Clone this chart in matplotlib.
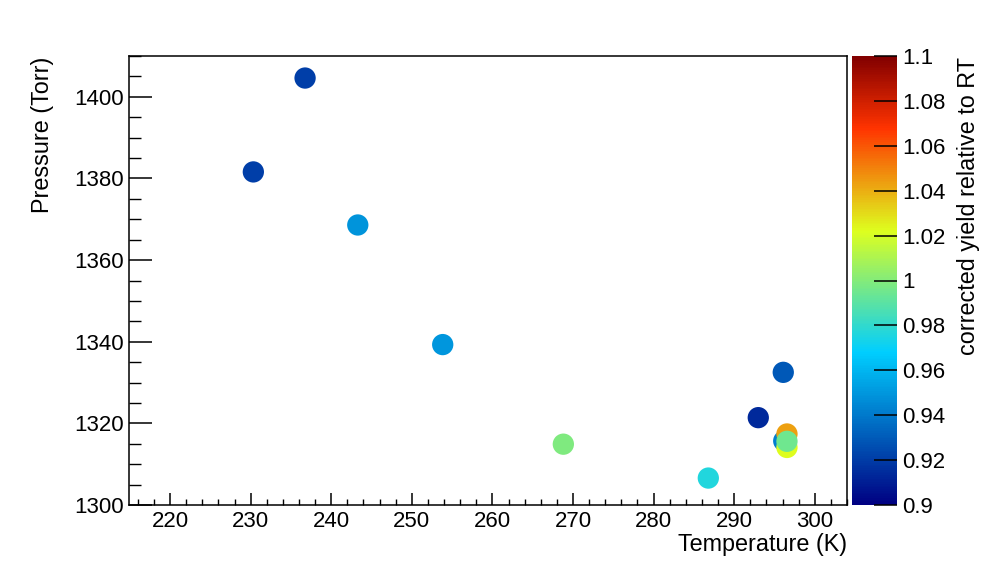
import matplotlib
matplotlib.use("Agg")
import matplotlib.pyplot as plt
import numpy as np
from matplotlib.colors import LinearSegmentedColormap, Normalize
from matplotlib.cm import ScalarMappable
from matplotlib.ticker import MultipleLocator, FormatStrFormatter

plt.rcParams['font.family'] = ['Liberation Sans', 'DejaVu Sans']

# data
temperature = [236.75, 230.33, 243.29, 253.83, 268.80, 286.79, 292.99, 296.09,
               296.15, 296.55, 296.55, 296.55]
pressure = [1404.6, 1381.6, 1368.6, 1339.3, 1314.9, 1306.6, 1321.4, 1332.5,
            1315.7, 1317.4, 1314.1, 1315.6]
rel_yield = [0.921, 0.921, 0.949, 0.950, 0.999, 0.976, 0.914, 0.929,
             0.942, 1.043, 1.022, 0.995]

cbar_ticks = [0.9, 0.92, 0.94, 0.96, 0.98, 1.0, 1.02, 1.04, 1.06, 1.08, 1.1]

# classic ROOT gradient palette
stops = [0.00, 0.34, 0.61, 0.84, 1.00]
red = [0.00, 0.00, 0.87, 1.00, 0.51]
green = [0.00, 0.81, 1.00, 0.20, 0.00]
blue = [0.51, 1.00, 0.12, 0.00, 0.00]
cmap = LinearSegmentedColormap.from_list(
    'root', [(s, (r, g, b)) for s, r, g, b in zip(stops, red, green, blue)], N=256)
norm = Normalize(0.9, 1.1)

W, H = 997, 561
fig = plt.figure(figsize=(W / 100, H / 100), dpi=100)
bottom = 1 - 505 / H
height = (505 - 56) / H
ax = fig.add_axes([129 / W, bottom, (847 - 129) / W, height])
cax = fig.add_axes([852 / W, bottom, 45 / W, height])

for t, p, v in zip(temperature, pressure, rel_yield):
    ax.scatter([t], [p], s=235, c=[v], cmap=cmap, norm=norm,
               edgecolors='none', zorder=3)

ax.set_xlim(214.9, 304.0)
ax.set_ylim(1300, 1410)
ax.xaxis.set_major_locator(MultipleLocator(10))
ax.xaxis.set_minor_locator(MultipleLocator(2))
ax.yaxis.set_major_locator(MultipleLocator(20))
ax.yaxis.set_minor_locator(MultipleLocator(5))
ax.tick_params(axis='x', which='major', direction='in', length=8.6, width=1.1,
               labelsize=16, pad=4)
ax.tick_params(axis='x', which='minor', direction='in', length=4.3, width=1.0)
ax.tick_params(axis='y', which='major', direction='in', length=16.6, width=1.1,
               labelsize=16, pad=4)
ax.tick_params(axis='y', which='minor', direction='in', length=8.6, width=1.0)
for sp in ax.spines.values():
    sp.set_linewidth(1.1)

cb = fig.colorbar(ScalarMappable(norm=norm, cmap=cmap), cax=cax)
cb.outline.set_visible(False)
cb.set_ticks(cbar_ticks)
cb.ax.yaxis.set_major_formatter(FormatStrFormatter('%g'))
cb.ax.minorticks_off()
cb.ax.tick_params(direction='in', length=16.6, width=1.1, labelsize=16,
                  pad=4, color='black')

fig.text(847 / W, 1 - 545 / H, 'Temperature (K)', ha='right', va='center',
         fontsize=16.8)
fig.text(42 / W, 1 - 57 / H, 'Pressure (Torr)', ha='center', va='top',
         rotation=90, fontsize=16.8)
fig.text(968 / W, 1 - 57 / H, 'corrected yield relative to RT', ha='center',
         va='top', rotation=90, fontsize=16.8)

fig.savefig('out.png', dpi=100)
